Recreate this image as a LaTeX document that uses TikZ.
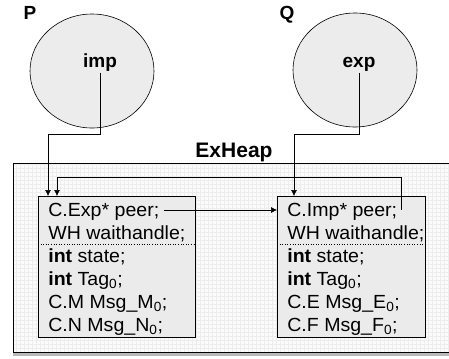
\documentclass[tikz,border=0pt]{standalone}
\usepackage{fontspec}
\setmainfont{Liberation Sans}
\usetikzlibrary{shapes.geometric,arrows.meta}
\tikzset{
	proc/.style={ellipse,draw,fill=gray!15,minimum width=124bp,minimum height=114bp},
	fld/.style={anchor=base west,inner sep=0pt,xscale=1.03,font=\fontsize{19bp}{23bp}\selectfont},
	ttl/.style={anchor=base,inner sep=0pt,font=\bfseries\fontsize{19bp}{23bp}\selectfont},
	rec/.style={draw,fill=gray!16,minimum height=141bp,anchor=north west,inner sep=0pt},
	ptr/.style={-{Latex[length=6bp,width=6bp]}},
}
\begin{document}
\begin{tikzpicture}[x=1bp,y=-1bp,line width=0.6bp]
			\useasboundingbox (0,0) rectangle (449,358);
			% the heap
			\fill[gray!3] (13,163) rectangle (449,352);
			\draw[step=4bp,gray!14,very thin] (13,163) grid (449,352);
			\fill[gray!55] (13,352) rectangle (449,356);
			\draw (449,163) -- (13,163) -- (13,352) -- (449,352);
			\node[ttl,font=\bfseries\fontsize{21bp}{25bp}\selectfont] (heap) at (234,157) {ExHeap};
			% the two processes
			\node[proc] (P) at (92,71) {};
			\node[proc] (Q) at (355,70) {};
			\node[ttl] (Plbl) at (30,19) {P};
			\node[ttl] (Qlbl) at (287,19) {Q};
			\node[ttl] (imp) at (100,67) {imp};
			\node[ttl] (exp) at (359,67) {exp};
			% the two channel ends
			\node[rec,minimum width=157bp] (lbox) at (38,196) {};
			\node[rec,minimum width=148bp] (rbox) at (277,196) {};
			\draw[dotted] (38,244) -- (195,244);
			\draw[dotted] (277,244) -- (425,244);
			\node[fld] (lpeer) at (48,216) {C.Exp* peer;};
			\node[fld] (lwh) at (48,239) {WH waithandle;};
			\node[fld] (lst) at (48,262) {\textbf{int} state;};
			\node[fld] (ltag) at (48,285) {\textbf{int} Tag\textsubscript{0};};
			\node[fld] (lm) at (48,308) {C.M Msg\_M\textsubscript{0};};
			\node[fld] (ln) at (48,331) {C.N Msg\_N\textsubscript{0};};
			\node[fld] (rpeer) at (287,216) {C.Imp* peer;};
			\node[fld] (rwh) at (287,239) {WH waithandle;};
			\node[fld] (rst) at (287,262) {\textbf{int} state;};
			\node[fld] (rtag) at (287,285) {\textbf{int} Tag\textsubscript{0};};
			\node[fld] (re) at (287,308) {C.E Msg\_E\textsubscript{0};};
			\node[fld] (rf) at (287,331) {C.F Msg\_F\textsubscript{0};};
			% pointers
			\coordinate (lin1) at ([xshift=10bp]lbox.north west);
			\coordinate (lin2) at ([xshift=19bp]lbox.north west);
			\coordinate (rin) at ([xshift=17bp]rbox.north west);
			\coordinate (lp) at ([xshift=4bp,yshift=6bp]lpeer.base east);
			\coordinate (rp) at ([xshift=4bp,yshift=6bp]rpeer.base east);
			\draw[ptr] ([yshift=-1.5bp]imp.south) |- ([yshift=62bp]lin1) -- (lin1);
			\draw[ptr] ([yshift=-1.5bp]exp.south) |- ([yshift=62bp]rin) -- (rin);
			\draw[ptr] (lp) -- (lp -| rbox.west);
			\draw[ptr] (rp) |- ([yshift=19bp]lin2) -- (lin2);
\end{tikzpicture}
\end{document}
